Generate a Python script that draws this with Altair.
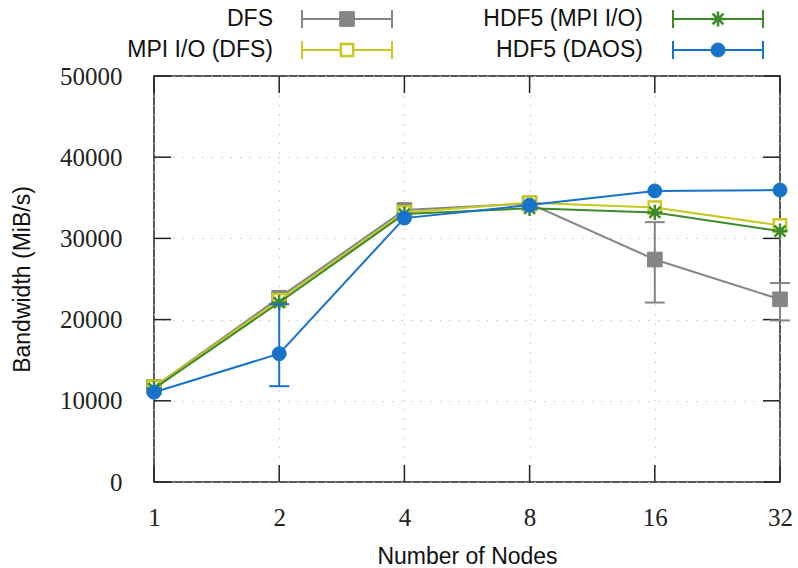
import altair as alt
import pandas as pd

# ---------------- data ----------------
nodes = [1, 2, 4, 8, 16, 32]
series_names = ["DFS", "MPI I/O (DFS)", "HDF5 (MPI I/O)", "HDF5 (DAOS)"]

dfs_bw = [11700, 22700, 33500, 34300, 27400, 22500]
dfs_lo = [11700, 22700, 33500, 34300, 22100, 19900]
dfs_hi = [11700, 22700, 33500, 34300, 32000, 24500]

mpiio_bw = [11700, 22400, 33200, 34400, 33800, 31600]
mpiio_lo = [11700, 22400, 33200, 34400, 33800, 31600]
mpiio_hi = [11700, 22400, 33200, 34400, 33800, 31600]

hdf5_mpiio_bw = [11500, 22100, 33000, 33700, 33200, 30900]
hdf5_mpiio_lo = [11500, 22100, 33000, 33700, 33200, 30900]
hdf5_mpiio_hi = [11500, 22100, 33000, 33700, 33200, 30900]

hdf5_daos_bw = [11050, 15800, 32500, 34100, 35850, 35950]
hdf5_daos_lo = [11050, 11800, 32500, 34100, 35850, 35950]
hdf5_daos_hi = [11050, 21900, 32500, 34100, 35850, 35950]

y_ticks = [0, 10000, 20000, 30000, 40000, 50000]

series_data = {
    "DFS": (dfs_bw, dfs_lo, dfs_hi),
    "MPI I/O (DFS)": (mpiio_bw, mpiio_lo, mpiio_hi),
    "HDF5 (MPI I/O)": (hdf5_mpiio_bw, hdf5_mpiio_lo, hdf5_mpiio_hi),
    "HDF5 (DAOS)": (hdf5_daos_bw, hdf5_daos_lo, hdf5_daos_hi),
}

STAR = "M-1,0L1,0M0,-1L0,1M-0.72,-0.72L0.72,0.72M-0.72,0.72L0.72,-0.72"
styles = {
    "DFS": dict(color="#858585", shape="square", filled=True, size=215),
    "MPI I/O (DFS)": dict(color="#c8c81e", shape="square", filled=False, size=150),
    "HDF5 (MPI I/O)": dict(color="#3e8a2a", shape=STAR, filled=False, size=230),
    "HDF5 (DAOS)": dict(color="#1673c9", shape="circle", filled=True, size=195),
}

W, H = 626, 406
xscale = alt.Scale(type="log", base=2, domain=[1, 32], nice=False)
yscale = alt.Scale(domain=[0, 50000], nice=False, zero=False)

SERIF = "Liberation Serif"
SANS = "Liberation Sans"
GRID = dict(grid=True, gridColor="#c4c4c4", gridDash=[1.5, 8], gridWidth=1)

x_axis = alt.Axis(
    values=nodes, format="d", title="Number of Nodes",
    labelFont=SERIF, labelFontSize=25, labelColor="#222222",
    labelPadding=23, labelFlush=False, labelOverlap=False,
    ticks=False, domain=False, **GRID,
    titleFont=SANS, titleFontSize=23, titleFontWeight="normal", titleColor="#111111",
    titleY=81, titleBaseline="alphabetic",
)
y_axis = alt.Axis(
    values=y_ticks, format="d", title="Bandwidth (MiB/s)",
    labelFont=SERIF, labelFontSize=25, labelColor="#222222",
    labelPadding=32, labelFlush=False, labelOverlap=False,
    ticks=False, domain=False, **GRID,
    titleFont=SANS, titleFontSize=23, titleFontWeight="normal", titleColor="#111111",
    titleX=-132, titleY=H / 2, titleAngle=270, titleAlign="center", titleBaseline="middle",
)


def X(field="nodes"):
    return alt.X(field + ":Q", scale=xscale, axis=x_axis)


def Y(field="bw"):
    return alt.Y(field + ":Q", scale=yscale, axis=y_axis)


layers = []

# inward ticks (gnuplot style), on all four sides
xt = pd.DataFrame({"nodes": nodes})
yt = pd.DataFrame({"bw": y_ticks})
tick_col = "#222222"
layers.append(alt.Chart(xt).mark_rule(color=tick_col, strokeWidth=1.5).encode(
    x=X(), y=alt.value(H), y2=alt.value(H - 17)))
layers.append(alt.Chart(xt).mark_rule(color=tick_col, strokeWidth=1.5).encode(
    x=X(), y=alt.value(0), y2=alt.value(17)))
layers.append(alt.Chart(yt).mark_rule(color=tick_col, strokeWidth=1.5).encode(
    y=Y(), x=alt.value(0), x2=alt.value(17)))
layers.append(alt.Chart(yt).mark_rule(color=tick_col, strokeWidth=1.5).encode(
    y=Y(), x=alt.value(W - 17), x2=alt.value(W)))


def point_kwargs(st):
    kw = dict(shape=st["shape"], size=st["size"], opacity=1)
    if st["filled"]:
        kw.update(filled=True, fill=st["color"], stroke=st["color"], strokeWidth=1)
    else:
        kw.update(filled=False, stroke=st["color"], strokeWidth=2.5)
        if st["shape"] == "square":
            kw.update(fill="white")
    return kw


# series
for name in series_names:
    bw, lo, hi = series_data[name]
    st = styles[name]
    df = pd.DataFrame({"nodes": nodes, "bw": bw, "lo": lo, "hi": hi})
    edf = df[(df["hi"] - df["lo"]) > 0]
    if len(edf):
        layers.append(alt.Chart(edf).mark_rule(color=st["color"], strokeWidth=2).encode(
            x=X(), y=Y("lo"), y2="hi:Q"))
        for f in ["lo", "hi"]:
            layers.append(alt.Chart(edf).mark_tick(
                color=st["color"], orient="horizontal", size=20, thickness=2, opacity=1).encode(
                x=X(), y=Y(f)))
    layers.append(alt.Chart(df).mark_line(color=st["color"], strokeWidth=2).encode(
        x=X(), y=Y()))
    layers.append(alt.Chart(df).mark_point(**point_kwargs(st)).encode(x=X(), y=Y()))

# legend (above the plot, two columns, label then sample)
one = pd.DataFrame({"k": [0]})
legend_pos = {
    "DFS": (0, 0),
    "MPI I/O (DFS)": (0, 1),
    "HDF5 (MPI I/O)": (1, 0),
    "HDF5 (DAOS)": (1, 1),
}
col_text = [119, 489]
col_x1 = [148, 519]
col_x2 = [238, 609]
row_y = [-57, -26]
for name in series_names:
    st = styles[name]
    c, r = legend_pos[name]
    yy = row_y[r]
    x1, x2 = col_x1[c], col_x2[c]
    xm = (x1 + x2) / 2
    layers.append(alt.Chart(one).mark_text(
        align="right", baseline="middle", font=SANS, fontSize=23, color="#111111").encode(
        x=alt.value(col_text[c]), y=alt.value(yy), text=alt.value(name)))
    layers.append(alt.Chart(one).mark_rule(color=st["color"], strokeWidth=2).encode(
        x=alt.value(x1), x2=alt.value(x2), y=alt.value(yy)))
    for xe in (x1, x2):
        layers.append(alt.Chart(one).mark_rule(color=st["color"], strokeWidth=2).encode(
            x=alt.value(xe), y=alt.value(yy - 9), y2=alt.value(yy + 9)))
    layers.append(alt.Chart(one).mark_point(**point_kwargs(st)).encode(
        x=alt.value(xm), y=alt.value(yy)))

chart = alt.layer(*layers).properties(
    width=W, height=H,
    autosize=alt.AutoSizeParams(type="none"),
    padding={"left": 154, "top": 76, "right": 18, "bottom": 86},
    background="white",
).configure_view(stroke="#222222", strokeWidth=1.5)

chart.save("out.html", embed_options={"renderer": "svg", "actions": False})
